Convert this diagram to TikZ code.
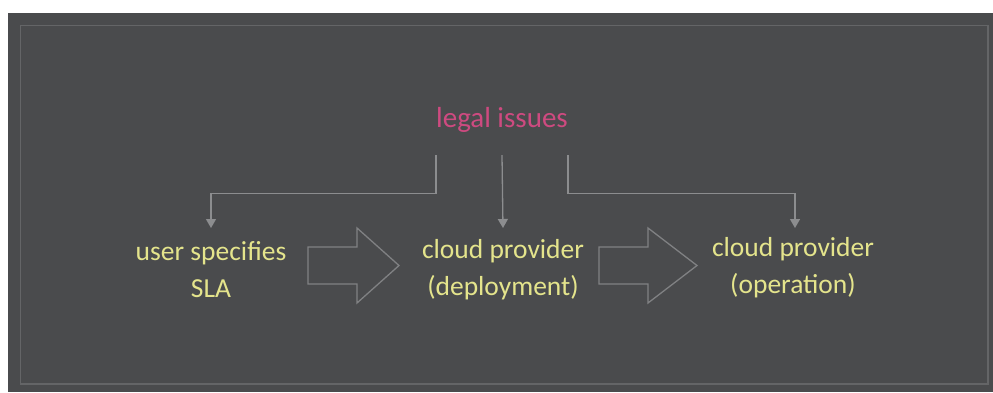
\documentclass[tikz,border=0pt]{standalone}
\usepackage{fontspec}
\setmainfont{Carlito}
\usetikzlibrary{arrows.meta}
\definecolor{panel}{RGB}{74,75,77}
\definecolor{frameline}{RGB}{100,101,103}
\definecolor{wire}{RGB}{140,141,143}
\definecolor{bigarrow}{RGB}{128,129,131}
\definecolor{labelyellow}{RGB}{228,228,140}
\definecolor{legalpink}{RGB}{206,74,128}
\tikzset{
  stage/.style={text=labelyellow, font=\fontsize{27.5}{37}\selectfont, align=center, inner sep=0pt},
  conn/.style={draw=wire, line width=1.3pt, -{Triangle[width=10pt,length=9pt]}},
  blockarrow/.style={draw=bigarrow, line width=1.3pt, line join=miter},
}
\begin{document}
\begin{tikzpicture}[x=1pt, y=-1pt]
  \useasboundingbox (0,0) rectangle (993,392);
  % canvas: white page with the dark panel and its inner frame
  \fill[white] (0,0) rectangle (993,392);
  \fill[panel] (8,13) rectangle (993,392);
  \draw[frameline, line width=1.5pt] (20.5,25.5) rectangle (988,384);

  % title and the three stages
  \node[text=legalpink, font=\fontsize{29}{32}\selectfont, minimum width=130pt, minimum height=70pt, inner sep=0pt] (legal) at (502,120) {legal issues};
  \node[stage] (user) at (211,270) {user specifies\\SLA};
  \node[stage] (deploy) at (503,270) {cloud provider\\(deployment)};
  \node[stage] (oper) at (793,268) {cloud provider\\(operation)};

  % connectors from the title down to each stage
  \coordinate (uin) at (211,228);
  \coordinate (din) at (503,228);
  \coordinate (oin) at (795,228);
  \draw[conn] (legal.south west) -- ++(0,38) -| (uin);
  \draw[conn] (legal.south) -- (din);
  \draw[conn] (legal.south east) -- ++(0,38) -| (oin);

  % block arrows between the stages
  \draw[blockarrow] (308,247) -- (357,247) -- (357,228) -- (399,265.5) -- (357,303) -- (357,284) -- (308,284) -- cycle;
  \draw[blockarrow] (599,247) -- (648,247) -- (648,228) -- (697,265.5) -- (648,303) -- (648,284) -- (599,284) -- cycle;
\end{tikzpicture}
\end{document}
